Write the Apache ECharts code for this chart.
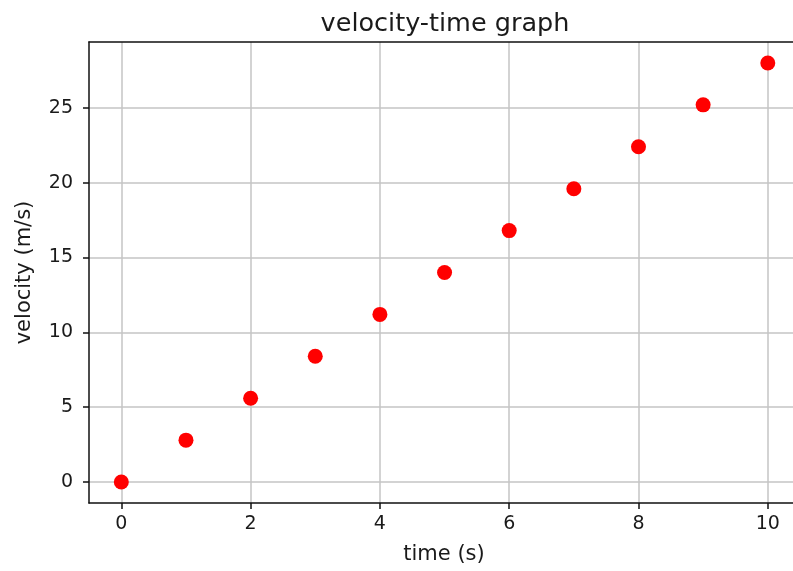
<!DOCTYPE html>
<html>
<head>
<meta charset="utf-8">
<script src="https://cdn.jsdelivr.net/npm/echarts@6/dist/echarts.min.js"></script>
<style>
html,body{margin:0;padding:0;background:#fff;}
#chart{width:793px;height:571px;}
</style>
</head>
<body>
<div id="chart"></div>
<script>
const titleText = 'velocity-time graph';
const xLabel = 'time (s)';
const yLabel = 'velocity (m/s)';
const times = [0, 1, 2, 3, 4, 5, 6, 7, 8, 9, 10];
const velocities = [0, 2.8, 5.6, 8.4, 11.2, 14.0, 16.8, 19.6, 22.4, 25.2, 28.0];
const xTicks = [0, 2, 4, 6, 8, 10];
const yTicks = [0, 5, 10, 15, 20, 25];

const points = times.map((t, i) => [t, velocities[i]]);
const font = 'DejaVu Sans';
const ink = '#1a1a1a';
const spine = {color: '#111', width: 1.5};

const chart = echarts.init(document.getElementById('chart'), null, {renderer: 'canvas'});
chart.setOption({
  animation: false,
  backgroundColor: '#fff',
  title: {
    text: titleText,
    left: 440,
    top: 6,
    textAlign: 'center',
    textStyle: {fontFamily: font, fontSize: 25.5, fontWeight: 'normal', color: ink}
  },
  grid: {left: 89, right: 0, top: 42, bottom: 68, show: false},
  xAxis: [{
    type: 'value', min: -0.5, max: 10.39, interval: 2,
    name: xLabel, nameLocation: 'middle', nameGap: 41,
    nameTextStyle: {fontFamily: font, fontSize: 21, color: ink, padding: [0, 0, 0, 6]},
    axisLine: {show: true, onZero: false, lineStyle: spine},
    axisTick: {show: true, length: 6, customValues: xTicks, lineStyle: spine},
    axisLabel: {customValues: xTicks, margin: 12, fontFamily: font, fontSize: 19, color: ink},
    splitLine: {show: true, lineStyle: {color: '#c4c4c4', width: 1.5}}
  }, {
    type: 'value', position: 'top', min: -0.5, max: 10.39,
    axisLine: {show: true, onZero: false, lineStyle: spine},
    axisTick: {show: false}, axisLabel: {show: false}, splitLine: {show: false}
  }],
  yAxis: {
    type: 'value', min: -1.4, max: 29.4, interval: 5,
    name: yLabel, nameLocation: 'middle', nameGap: 54, nameRotate: 90,
    nameTextStyle: {fontFamily: font, fontSize: 21, color: ink},
    axisLine: {show: true, onZero: false, lineStyle: spine},
    axisTick: {show: true, length: 6, customValues: yTicks, lineStyle: spine},
    axisLabel: {customValues: yTicks, margin: 16, fontFamily: font, fontSize: 19, color: ink},
    splitLine: {show: true, lineStyle: {color: '#c4c4c4', width: 1.5}}
  },
  series: [{
    type: 'scatter',
    xAxisIndex: 0,
    data: points,
    symbol: 'circle',
    symbolSize: 15,
    itemStyle: {color: '#ff0000', opacity: 1},
    z: 5
  }]
});
</script>
</body>
</html>
